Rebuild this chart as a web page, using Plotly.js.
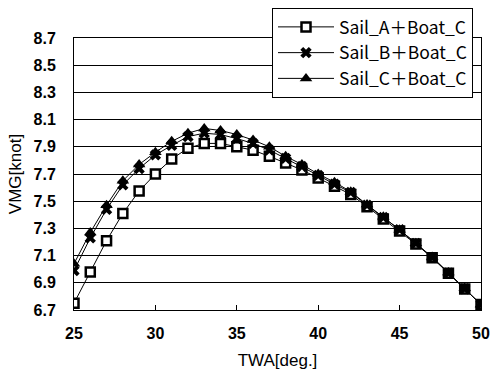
<!DOCTYPE html>
<html>
<head>
<meta charset="utf-8">
<script src="https://cdn.plot.ly/plotly-3.0.1.min.js"></script>
<style>html,body{margin:0;padding:0;background:#fff;}#chart{width:491px;height:378px;}</style>
</head>
<body>
<div id="chart"></div>
<script>
const twa = [25,26,27,28,29,30,31,32,33,34,35,36,37,38,39,40,41,42,43,44,45,46,47,48,49,50];
const sailA = [6.75,6.98,7.21,7.41,7.575,7.70,7.81,7.89,7.925,7.925,7.90,7.875,7.83,7.78,7.73,7.67,7.61,7.55,7.46,7.37,7.28,7.185,7.085,6.97,6.855,6.74];
const sailB = [6.99,7.23,7.44,7.62,7.74,7.84,7.91,7.975,8.0,7.99,7.96,7.925,7.876,7.815,7.755,7.69,7.625,7.565,7.47,7.38,7.29,7.19,7.085,6.97,6.855,6.74];
const sailC = [7.04,7.27,7.47,7.65,7.77,7.86,7.94,8.0,8.035,8.02,7.99,7.95,7.90,7.83,7.77,7.70,7.64,7.57,7.475,7.385,7.29,7.19,7.09,6.975,6.86,6.74];
const names = ["Sail_A\uFF0BBoat_C","Sail_B\uFF0BBoat_C","Sail_C\uFF0BBoat_C"];
const yTicks = [6.7,6.9,7.1,7.3,7.5,7.7,7.9,8.1,8.3,8.5,8.7];
const xTicks = [25,30,35,40,45,50];

const fontFam = "Liberation Sans, Arial, sans-serif";
const cjkFam = "Noto Sans CJK JP, sans-serif";
const traces = [
  {x: twa, y: sailA, name: names[0], legendgroup: "a", mode: "lines+markers",
   line: {color: "#000", width: 1},
   marker: {symbol: "square", size: 9, color: "#fff", line: {color: "#000", width: 2.5}}},
  {x: twa, y: sailB, name: names[1], legendgroup: "b", mode: "lines+markers",
   line: {color: "#000", width: 1},
   marker: {symbol: "x", size: 10, color: "#000", line: {color: "#000", width: 0}}},
  {x: twa, y: sailC, name: names[2], legendgroup: "c", mode: "lines+markers",
   line: {color: "#000", width: 1},
   marker: {symbol: "triangle-up", size: 11, color: "#000"}}
];
const layout = {
  width: 491, height: 378,
  margin: {l: 74, r: 10, t: 38, b: 68, autoexpand: false},
  paper_bgcolor: "#fff", plot_bgcolor: "#fff",
  font: {family: fontFam, color: "#000", size: 15},
  showlegend: true,
  legend: {xref: "container", yref: "container", x: 272/491, y: 1 - 8/378, xanchor: "left", yanchor: "top",
    bgcolor: "#fff", bordercolor: "#000", borderwidth: 1,
    font: {family: cjkFam, size: 17.5, color: "#000"},
    tracegroupgap: 0, itemwidth: 56},
  xaxis: {range: [25, 50], tickvals: xTicks, ticktext: xTicks.map(String),
    showgrid: false, zeroline: false, showline: true, linecolor: "#000", linewidth: 1, mirror: true,
    ticks: "inside", ticklen: 5, tickcolor: "#000", ticklabelstandoff: 9,
    tickfont: {family: fontFam, size: 16, color: "#000", weight: "bold"},
    title: {text: "TWA[deg.]", font: {family: fontFam, size: 17, color: "#000"}, standoff: 12}},
  yaxis: {range: [6.7, 8.7], tickvals: yTicks, ticktext: yTicks.map(v => v.toFixed(1)),
    showgrid: true, gridcolor: "#000", gridwidth: 1, zeroline: false,
    showline: true, linecolor: "#000", linewidth: 1, mirror: true,
    ticks: "inside", ticklen: 4, tickcolor: "#000", ticklabelstandoff: 14,
    tickfont: {family: fontFam, size: 16, color: "#000", weight: "bold"},
    title: {text: "VMG[knot]", font: {family: fontFam, size: 17, color: "#000"}, standoff: 7}}
};
Plotly.newPlot("chart", traces, layout, {displayModeBar: false, staticPlot: true});
</script>
</body>
</html>
